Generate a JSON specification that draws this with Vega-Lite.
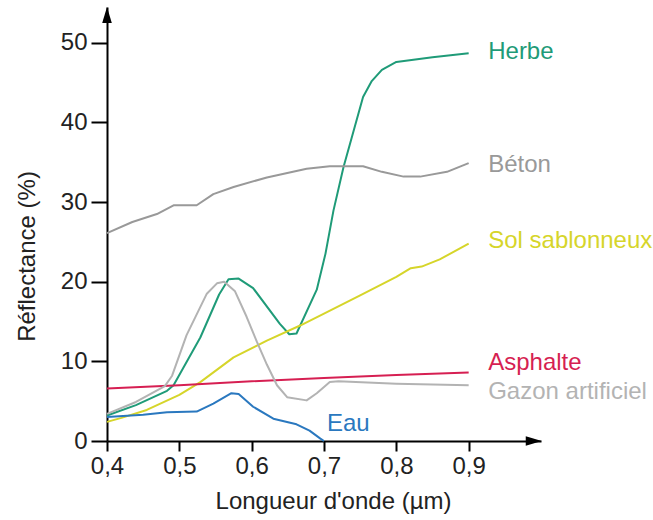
{
  "$schema": "https://vega.github.io/schema/vega-lite/v6.json",
  "autosize": "none",
  "width": 434,
  "height": 434,
  "padding": {"left": 107, "top": 7, "right": 112, "bottom": 79},
  "background": "white",
  "config": {"view": {"stroke": null}, "font": "Liberation Sans"},
  "datasets": {
    "curves": [
      {"serie": "Herbe", "x": 0.40, "y": 3.2},
      {"serie": "Herbe", "x": 0.44, "y": 4.5},
      {"serie": "Herbe", "x": 0.483, "y": 6.3},
      {"serie": "Herbe", "x": 0.492, "y": 7.0},
      {"serie": "Herbe", "x": 0.529, "y": 13.0},
      {"serie": "Herbe", "x": 0.555, "y": 18.4},
      {"serie": "Herbe", "x": 0.568, "y": 20.3},
      {"serie": "Herbe", "x": 0.582, "y": 20.4},
      {"serie": "Herbe", "x": 0.602, "y": 19.2},
      {"serie": "Herbe", "x": 0.639, "y": 14.7},
      {"serie": "Herbe", "x": 0.652, "y": 13.4},
      {"serie": "Herbe", "x": 0.662, "y": 13.5},
      {"serie": "Herbe", "x": 0.69, "y": 19.0},
      {"serie": "Herbe", "x": 0.702, "y": 23.5},
      {"serie": "Herbe", "x": 0.713, "y": 28.9},
      {"serie": "Herbe", "x": 0.727, "y": 34.4},
      {"serie": "Herbe", "x": 0.738, "y": 38.0},
      {"serie": "Herbe", "x": 0.754, "y": 43.2},
      {"serie": "Herbe", "x": 0.766, "y": 45.2},
      {"serie": "Herbe", "x": 0.78, "y": 46.6},
      {"serie": "Herbe", "x": 0.80, "y": 47.6},
      {"serie": "Herbe", "x": 0.85, "y": 48.2},
      {"serie": "Herbe", "x": 0.90, "y": 48.7},
      {"serie": "Béton", "x": 0.40, "y": 26.1},
      {"serie": "Béton", "x": 0.435, "y": 27.5},
      {"serie": "Béton", "x": 0.469, "y": 28.5},
      {"serie": "Béton", "x": 0.492, "y": 29.6},
      {"serie": "Béton", "x": 0.524, "y": 29.6},
      {"serie": "Béton", "x": 0.547, "y": 31.0},
      {"serie": "Béton", "x": 0.575, "y": 31.9},
      {"serie": "Béton", "x": 0.621, "y": 33.1},
      {"serie": "Béton", "x": 0.676, "y": 34.2},
      {"serie": "Béton", "x": 0.708, "y": 34.5},
      {"serie": "Béton", "x": 0.754, "y": 34.5},
      {"serie": "Béton", "x": 0.78, "y": 33.8},
      {"serie": "Béton", "x": 0.81, "y": 33.2},
      {"serie": "Béton", "x": 0.833, "y": 33.2},
      {"serie": "Béton", "x": 0.87, "y": 33.8},
      {"serie": "Béton", "x": 0.90, "y": 34.9},
      {"serie": "Sol sablonneux", "x": 0.40, "y": 2.4},
      {"serie": "Sol sablonneux", "x": 0.42, "y": 2.9},
      {"serie": "Sol sablonneux", "x": 0.455, "y": 3.9},
      {"serie": "Sol sablonneux", "x": 0.50, "y": 5.8},
      {"serie": "Sol sablonneux", "x": 0.529, "y": 7.4},
      {"serie": "Sol sablonneux", "x": 0.575, "y": 10.5},
      {"serie": "Sol sablonneux", "x": 0.621, "y": 12.6},
      {"serie": "Sol sablonneux", "x": 0.667, "y": 14.5},
      {"serie": "Sol sablonneux", "x": 0.70, "y": 16.0},
      {"serie": "Sol sablonneux", "x": 0.75, "y": 18.3},
      {"serie": "Sol sablonneux", "x": 0.80, "y": 20.6},
      {"serie": "Sol sablonneux", "x": 0.82, "y": 21.7},
      {"serie": "Sol sablonneux", "x": 0.835, "y": 21.9},
      {"serie": "Sol sablonneux", "x": 0.86, "y": 22.8},
      {"serie": "Sol sablonneux", "x": 0.90, "y": 24.8},
      {"serie": "Asphalte", "x": 0.40, "y": 6.6},
      {"serie": "Asphalte", "x": 0.50, "y": 7.0},
      {"serie": "Asphalte", "x": 0.60, "y": 7.5},
      {"serie": "Asphalte", "x": 0.70, "y": 7.9},
      {"serie": "Asphalte", "x": 0.80, "y": 8.3},
      {"serie": "Asphalte", "x": 0.90, "y": 8.6},
      {"serie": "Gazon artificiel", "x": 0.40, "y": 3.4},
      {"serie": "Gazon artificiel", "x": 0.44, "y": 4.9},
      {"serie": "Gazon artificiel", "x": 0.48, "y": 6.9},
      {"serie": "Gazon artificiel", "x": 0.49, "y": 8.2},
      {"serie": "Gazon artificiel", "x": 0.51, "y": 13.3},
      {"serie": "Gazon artificiel", "x": 0.538, "y": 18.5},
      {"serie": "Gazon artificiel", "x": 0.552, "y": 19.8},
      {"serie": "Gazon artificiel", "x": 0.562, "y": 20.0},
      {"serie": "Gazon artificiel", "x": 0.577, "y": 18.8},
      {"serie": "Gazon artificiel", "x": 0.593, "y": 15.6},
      {"serie": "Gazon artificiel", "x": 0.607, "y": 12.5},
      {"serie": "Gazon artificiel", "x": 0.621, "y": 9.6},
      {"serie": "Gazon artificiel", "x": 0.635, "y": 7.0},
      {"serie": "Gazon artificiel", "x": 0.649, "y": 5.5},
      {"serie": "Gazon artificiel", "x": 0.676, "y": 5.1},
      {"serie": "Gazon artificiel", "x": 0.69, "y": 6.0},
      {"serie": "Gazon artificiel", "x": 0.708, "y": 7.4},
      {"serie": "Gazon artificiel", "x": 0.72, "y": 7.5},
      {"serie": "Gazon artificiel", "x": 0.80, "y": 7.2},
      {"serie": "Gazon artificiel", "x": 0.90, "y": 7.0},
      {"serie": "Eau", "x": 0.40, "y": 3.0},
      {"serie": "Eau", "x": 0.45, "y": 3.3},
      {"serie": "Eau", "x": 0.483, "y": 3.6},
      {"serie": "Eau", "x": 0.524, "y": 3.7},
      {"serie": "Eau", "x": 0.547, "y": 4.7},
      {"serie": "Eau", "x": 0.572, "y": 6.0},
      {"serie": "Eau", "x": 0.582, "y": 5.9},
      {"serie": "Eau", "x": 0.602, "y": 4.3},
      {"serie": "Eau", "x": 0.63, "y": 2.8},
      {"serie": "Eau", "x": 0.662, "y": 2.1},
      {"serie": "Eau", "x": 0.68, "y": 1.3},
      {"serie": "Eau", "x": 0.695, "y": 0.3},
      {"serie": "Eau", "x": 0.70, "y": 0.0}
    ],
    "labels": [
      {"serie": "Herbe", "x": 0.927, "y": 48.8},
      {"serie": "Béton", "x": 0.927, "y": 34.6},
      {"serie": "Sol sablonneux", "x": 0.927, "y": 25.1},
      {"serie": "Asphalte", "x": 0.927, "y": 9.8},
      {"serie": "Gazon artificiel", "x": 0.927, "y": 6.1},
      {"serie": "Eau", "x": 0.704, "y": 2.1}
    ],
    "arrows": [
      {"axe": "y", "x": 0.40, "y": 53.5},
      {"axe": "x", "x": 0.99, "y": 0}
    ]
  },
  "layer": [
    {
      "data": {"name": "curves"},
      "mark": {"type": "line", "strokeWidth": 2, "interpolate": "linear", "strokeJoin": "round", "clip": false},
      "encoding": {
        "x": {
          "field": "x", "type": "quantitative",
          "scale": {"domain": [0.4, 1.0], "nice": false, "zero": false},
          "axis": {
            "values": [0.4, 0.5, 0.6, 0.7, 0.8, 0.9],
            "labelExpr": "replace(format(datum.value, '.1f'), '.', ',')",
            "grid": false,
            "domainColor": "black", "domainWidth": 2,
            "tickColor": "black", "tickWidth": 2, "tickSize": 10,
            "labelColor": "#222", "labelFontSize": 24, "labelPadding": 3,
            "labelFlush": false,
            "title": "Longueur d'onde (µm)",
            "titleFontSize": 24, "titleFontWeight": "normal", "titleColor": "#222",
            "titleX": 226, "titleY": 60, "titleBaseline": "middle", "titleAlign": "center"
          }
        },
        "y": {
          "field": "y", "type": "quantitative",
          "scale": {"domain": [0, 54.5], "nice": false},
          "axis": {
            "values": [0, 10, 20, 30, 40, 50],
            "grid": false,
            "domainColor": "black", "domainWidth": 2,
            "tickColor": "black", "tickWidth": 2, "tickSize": 16,
            "labelColor": "#222", "labelFontSize": 24, "labelPadding": 4,
            "labelFlush": false,
            "title": "Réflectance (%)",
            "titleFontSize": 24, "titleFontWeight": "normal", "titleColor": "#222",
            "titleX": -80, "titleY": 249, "titleBaseline": "middle", "titleAlign": "center", "titleAngle": -90
          }
        },
        "color": {
          "field": "serie", "type": "nominal", "legend": null,
          "scale": {
            "domain": ["Herbe", "Béton", "Sol sablonneux", "Asphalte", "Gazon artificiel", "Eau"],
            "range": ["#1f9b78", "#999999", "#d6d52a", "#d61f52", "#b3b3b3", "#2a78bf"]
          }
        },
        "detail": {"field": "serie"}
      }
    },
    {
      "data": {"name": "labels"},
      "mark": {"type": "text", "align": "left", "baseline": "middle", "fontSize": 24, "font": "Liberation Sans"},
      "encoding": {
        "x": {"field": "x", "type": "quantitative"},
        "y": {"field": "y", "type": "quantitative"},
        "text": {"field": "serie"},
        "color": {"field": "serie", "type": "nominal", "legend": null}
      }
    },
    {
      "data": {"name": "arrows"},
      "mark": {"type": "point", "filled": true, "color": "black", "opacity": 1, "size": 256, "clip": false},
      "encoding": {
        "x": {"field": "x", "type": "quantitative"},
        "y": {"field": "y", "type": "quantitative"},
        "shape": {
          "field": "axe", "type": "nominal", "legend": null,
          "scale": {"domain": ["x", "y"], "range": ["M1,0L-1,-0.6L-1,0.6Z", "M0,-1L0.6,1L-0.6,1Z"]}
        }
      }
    }
  ]
}
